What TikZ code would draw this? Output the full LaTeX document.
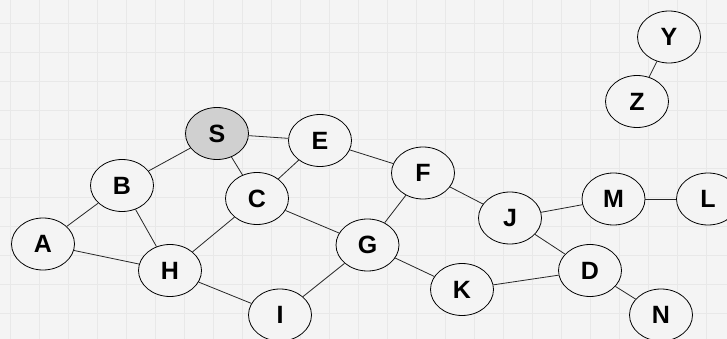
\documentclass[tikz,border=0pt]{standalone}
\usepackage{fontspec}
\setmainfont{Liberation Sans}
\definecolor{bgc}{RGB}{244,244,244}
\definecolor{gridc}{RGB}{232,232,232}
\definecolor{sfill}{RGB}{208,208,208}
\tikzset{
  vert/.style={ellipse, draw=black, line width=0.8pt, fill=bgc, minimum width=63pt, minimum height=52pt, inner sep=0pt, font=\fontsize{25}{25}\selectfont\bfseries},
  src/.style={vert, fill=sfill},
  edge/.style={line width=0.8pt, draw=black!85}
}
\usetikzlibrary{shapes.geometric}
\begin{document}
\begin{tikzpicture}[x=1pt,y=-1pt]
\useasboundingbox (0,0) rectangle (727,339);
\fill[bgc] (0,0) rectangle (727,339);
\foreach \i in {0,...,25} {\draw[gridc, line width=0.6pt] (10+29*\i,0) -- (10+29*\i,339);}
\foreach \j in {0,...,11} {\draw[gridc, line width=0.6pt] (0,-6+29*\j) -- (727,-6+29*\j);}
\node[src] (S) at (217,133.5) {S};
\node[vert] (E) at (320,140.5) {E};
\node[vert] (B) at (122,185.5) {B};
\node[vert] (C) at (257,198.5) {C};
\node[vert] (F) at (423,173) {F};
\node[vert] (A) at (43,244) {A};
\node[vert] (H) at (170,270.5) {H};
\node[vert] (G) at (367.5,245) {G};
\node[vert] (J) at (510,218) {J};
\node[vert] (M) at (613.5,199) {M};
\node[vert] (L) at (708,199) {L};
\node[vert] (D) at (590,270.5) {D};
\node[vert] (K) at (462,289.5) {K};
\node[vert] (I) at (280,315) {I};
\node[vert] (N) at (661,315) {N};
\node[vert] (Y) at (669,37) {Y};
\node[vert] (Z) at (637,101.5) {Z};
\foreach \a/\b in {S/B,S/E,S/C,E/C,E/F,B/A,B/H,A/H,C/H,C/G,F/G,F/J,J/M,M/L,J/D,D/K,D/N,G/K,G/I,H/I,Y/Z}
  {\draw[edge] (\a) -- (\b);}
\end{tikzpicture}
\end{document}
